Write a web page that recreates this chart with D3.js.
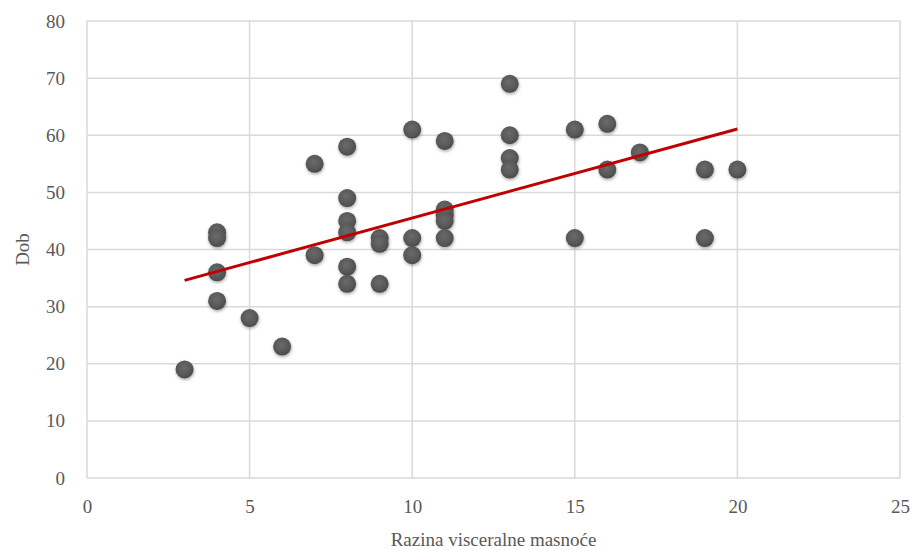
<!DOCTYPE html>
<html>
<head>
<meta charset="utf-8">
<script src="https://cdn.jsdelivr.net/npm/d3@7"></script>
<style>
  html, body { margin: 0; padding: 0; background: #fff; }
  svg { display: block; }
</style>
</head>
<body>
<svg id="chart" width="912" height="550"></svg>
<script>
// Data
const xValues = [3, 4, 4, 4, 4, 5, 6, 7, 7, 8, 8, 8, 8, 8, 8, 9, 9, 9, 10, 10, 10, 11, 11, 11, 11, 11, 13, 13, 13, 13, 15, 15, 16, 16, 17, 19, 19, 20];
const yValues = [19, 43, 42, 36, 31, 28, 23, 39, 55, 58, 49, 45, 43, 37, 34, 42, 41, 34, 61, 42, 39, 59, 47, 46, 45, 42, 69, 60, 56, 54, 61, 42, 62, 54, 57, 54, 42, 54];
const trendX = [3, 20];
const trendY = [34.6, 61.1];
const xTicks = [0, 5, 10, 15, 20, 25];
const yTicks = [0, 10, 20, 30, 40, 50, 60, 70, 80];
const xTitle = "Razina visceralne masnoće";
const yTitle = "Dob";

const svg = d3.select("#chart");
const mLeft = 87, mRight = 900, mTop = 21, mBottom = 478;

const x = d3.scaleLinear().domain([0, 25]).range([mLeft, mRight]);
const y = d3.scaleLinear().domain([0, 80]).range([mBottom, mTop]);

const defs = svg.append("defs");
const grad = defs.append("radialGradient").attr("id", "dotGrad")
  .attr("cx", "45%").attr("cy", "40%").attr("r", "60%");
grad.append("stop").attr("offset", "0%").attr("stop-color", "#6a6a6a");
grad.append("stop").attr("offset", "70%").attr("stop-color", "#575757");
grad.append("stop").attr("offset", "100%").attr("stop-color", "#4a4a4a");
const filt = defs.append("filter").attr("id", "shadow")
  .attr("x", "-50%").attr("y", "-50%").attr("width", "200%").attr("height", "200%");
filt.append("feDropShadow").attr("dx", 0.5).attr("dy", 1.5).attr("stdDeviation", 1.5)
  .attr("flood-color", "#000").attr("flood-opacity", 0.35);

// Gridlines
const grid = svg.append("g").attr("stroke", "#d9d9d9").attr("stroke-width", 1.5);
grid.selectAll("line.h").data(yTicks).join("line").attr("class", "h")
  .attr("x1", mLeft).attr("x2", mRight)
  .attr("y1", d => y(d)).attr("y2", d => y(d));
grid.selectAll("line.v").data(xTicks).join("line").attr("class", "v")
  .attr("y1", mTop).attr("y2", mBottom)
  .attr("x1", d => x(d)).attr("x2", d => x(d));

// Axes labels via d3 axes
const fontFam = "'Liberation Serif', 'Times New Roman', serif";
const xAxis = svg.append("g").attr("transform", `translate(0,${mBottom})`)
  .call(d3.axisBottom(x).tickValues(xTicks).tickSize(0).tickPadding(22));
const yAxis = svg.append("g").attr("transform", `translate(${mLeft},0)`)
  .call(d3.axisLeft(y).tickValues(yTicks).tickSize(0).tickPadding(22));
[xAxis, yAxis].forEach(a => {
  a.select(".domain").remove();
  a.selectAll("text").attr("fill", "#595959").style("font-family", fontFam).style("font-size", "19px");
});

// Points
svg.append("g").selectAll("circle")
  .data(xValues.map((v, i) => [v, yValues[i]]))
  .join("circle")
  .attr("cx", d => x(d[0])).attr("cy", d => y(d[1]))
  .attr("r", 9)
  .attr("fill", "url(#dotGrad)")
  .attr("filter", "url(#shadow)");

// Trend line
svg.append("line")
  .attr("x1", x(trendX[0])).attr("y1", y(trendY[0]))
  .attr("x2", x(trendX[1])).attr("y2", y(trendY[1]))
  .attr("stroke", "#c00000").attr("stroke-width", 3);

// Titles
svg.append("text").attr("x", (mLeft + mRight) / 2).attr("y", 546)
  .attr("text-anchor", "middle").attr("fill", "#595959")
  .style("font-family", fontFam).style("font-size", "19px").text(xTitle);
svg.append("text").attr("transform", `translate(29,${(mTop + mBottom) / 2}) rotate(-90)`)
  .attr("text-anchor", "middle").attr("fill", "#595959")
  .style("font-family", fontFam).style("font-size", "19px").text(yTitle);
</script>
</body>
</html>
